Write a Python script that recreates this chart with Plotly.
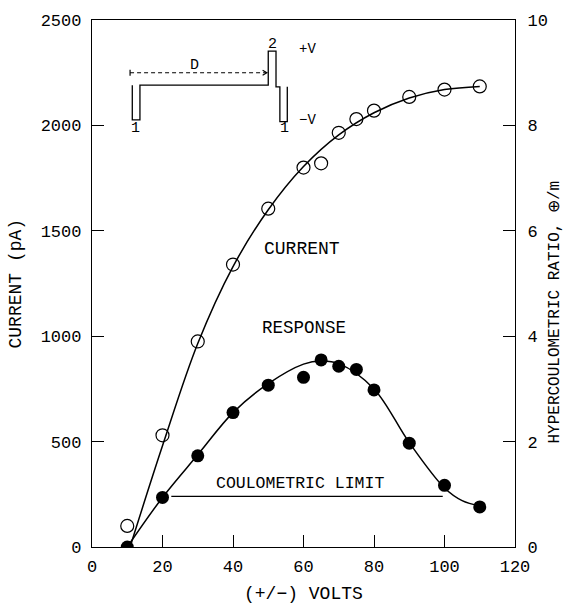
import plotly.graph_objects as go

# ---- data ----
volts = [10, 20, 30, 40, 50, 60, 65, 70, 75, 80, 90, 100, 110]
current = [100, 530, 975, 1340, 1605, 1800, 1820, 1965, 2030, 2070, 2135, 2170, 2185]
response = [0, 0.94, 1.73, 2.55, 3.07, 3.22, 3.55, 3.43, 3.37, 2.98, 1.97, 1.17, 0.76]

# fitted curves
current_fit_x = [10.8, 20, 30, 40, 50, 60, 70, 80, 90, 100, 110]
current_fit_y = [0, 480, 965, 1330, 1600, 1805, 1955, 2060, 2130, 2170, 2185]
response_fit_x = [10, 20, 30, 40, 50, 60, 65, 70, 80, 90, 100, 105, 110]
response_fit_y = [0, 0.94, 1.75, 2.55, 3.1, 3.47, 3.53, 3.48, 3.0, 1.98, 1.12, 0.88, 0.78]

limit_x = [22.5, 99.5]
limit_y = [0.96, 0.96]

x_ticks = [0, 20, 40, 60, 80, 100, 120]
y_ticks = [0, 500, 1000, 1500, 2000, 2500]
y2_ticks = [0, 2, 4, 6, 8, 10]

FONT = "Liberation Mono"
BLACK = "black"

fig = go.Figure()

fig.add_trace(go.Scatter(x=current_fit_x, y=current_fit_y, mode="lines",
                         line=dict(color=BLACK, width=1.5, shape="spline", smoothing=1.0),
                         hoverinfo="skip", showlegend=False))
fig.add_trace(go.Scatter(x=volts, y=current, mode="markers",
                         marker=dict(symbol="circle-open", size=13, color=BLACK,
                                     line=dict(width=1.2, color=BLACK)),
                         showlegend=False))
fig.add_trace(go.Scatter(x=response_fit_x, y=response_fit_y, mode="lines", yaxis="y2",
                         line=dict(color=BLACK, width=1.5, shape="spline", smoothing=1.0),
                         hoverinfo="skip", showlegend=False))
fig.add_trace(go.Scatter(x=volts, y=response, mode="markers", yaxis="y2",
                         marker=dict(symbol="circle", size=13, color=BLACK),
                         showlegend=False))
fig.add_trace(go.Scatter(x=limit_x, y=limit_y, mode="lines", yaxis="y2",
                         line=dict(color=BLACK, width=1.2),
                         hoverinfo="skip", showlegend=False))

# ---- inset pulse diagram (in data units of x / left y) ----
wave = ("M 11.43,2191 L 11.43,2026 L 13.6,2026 L 13.6,2191 L 50.0,2191 "
        "L 50.0,2352 L 52.2,2352 L 52.2,2183 L 53.3,2183 L 53.3,2018 "
        "L 55.4,2018 L 55.4,2183")
shapes = [
    dict(type="path", path=wave, xref="x", yref="y", line=dict(color=BLACK, width=1.3)),
    dict(type="line", x0=10.8, x1=49.4, y0=2250, y1=2250, xref="x", yref="y",
         line=dict(color=BLACK, width=1.1, dash="4px,3px")),
    dict(type="line", x0=10.8, x1=10.8, y0=2236, y1=2264, xref="x", yref="y",
         line=dict(color=BLACK, width=1.2)),
    dict(type="path", path="M 48.4,2238 L 49.6,2250 L 48.4,2262", xref="x", yref="y",
         line=dict(color=BLACK, width=1.2)),
]

def txt(x, y, s, size=16, xref="x", yref="y", angle=0):
    return dict(x=x, y=y, xref=xref, yref=yref, text=s, showarrow=False,
                textangle=angle, font=dict(family=FONT, size=size, color=BLACK),
                xanchor="center", yanchor="middle")

annotations = [
    txt(12.2, 1986, "1", 15),
    txt(54.5, 1986, "1", 15),
    txt(51.1, 2383, "2", 15),
    txt(29.0, 2286, "D", 15),
    txt(61.0, 2364, "+V", 14),
    txt(61.0, 2026, "\u2212V", 14),
    txt(59.7, 1413, "CURRENT", 18),
    txt(60.0, 1040, "RESPONSE", 17.5),
    dict(x=59, y=1.2, xref="x", yref="y2", text="COULOMETRIC LIMIT", showarrow=False,
         font=dict(family=FONT, size=16.5, color=BLACK), xanchor="center", yanchor="middle"),
    txt(-0.182, 0.5, "CURRENT (pA)", 18, "paper", "paper", -90),
    txt(1.0946, 0.445, "HYPERCOULOMETRIC RATIO, \u2295/m", 16, "paper", "paper", -90),
    txt(0.501, -0.089, "(+/\u2212) VOLTS", 18, "paper", "paper"),
]

tickfont = dict(family=FONT, size=17, color=BLACK)

fig.update_layout(
    width=574, height=605,
    margin=dict(l=92, r=59, t=18, b=58),
    paper_bgcolor="white", plot_bgcolor="white",
    showlegend=False,
    shapes=shapes,
    annotations=annotations,
    xaxis=dict(range=[0, 120], tickvals=x_ticks, ticks="inside", ticklen=12, tickwidth=1.2,
               tickcolor=BLACK, showline=True, linecolor=BLACK, linewidth=1.3, mirror=True,
               showgrid=False, zeroline=False, tickfont=tickfont, ticklabelstandoff=3),
    yaxis=dict(range=[0, 2500], tickvals=y_ticks, ticks="inside", ticklen=12, tickwidth=1.2,
               tickcolor=BLACK, showline=True, linecolor=BLACK, linewidth=1.3, mirror=True,
               showgrid=False, zeroline=False, tickfont=tickfont, ticklabelstandoff=6),
    yaxis2=dict(range=[0, 10], tickvals=y2_ticks, ticks="inside", ticklen=12, tickwidth=1.2,
                tickcolor=BLACK, overlaying="y", side="right", showline=True, linecolor=BLACK,
                linewidth=1.3, showgrid=False, zeroline=False, tickfont=tickfont,
                ticklabelstandoff=8),
)

fig.write_html("out.html")
